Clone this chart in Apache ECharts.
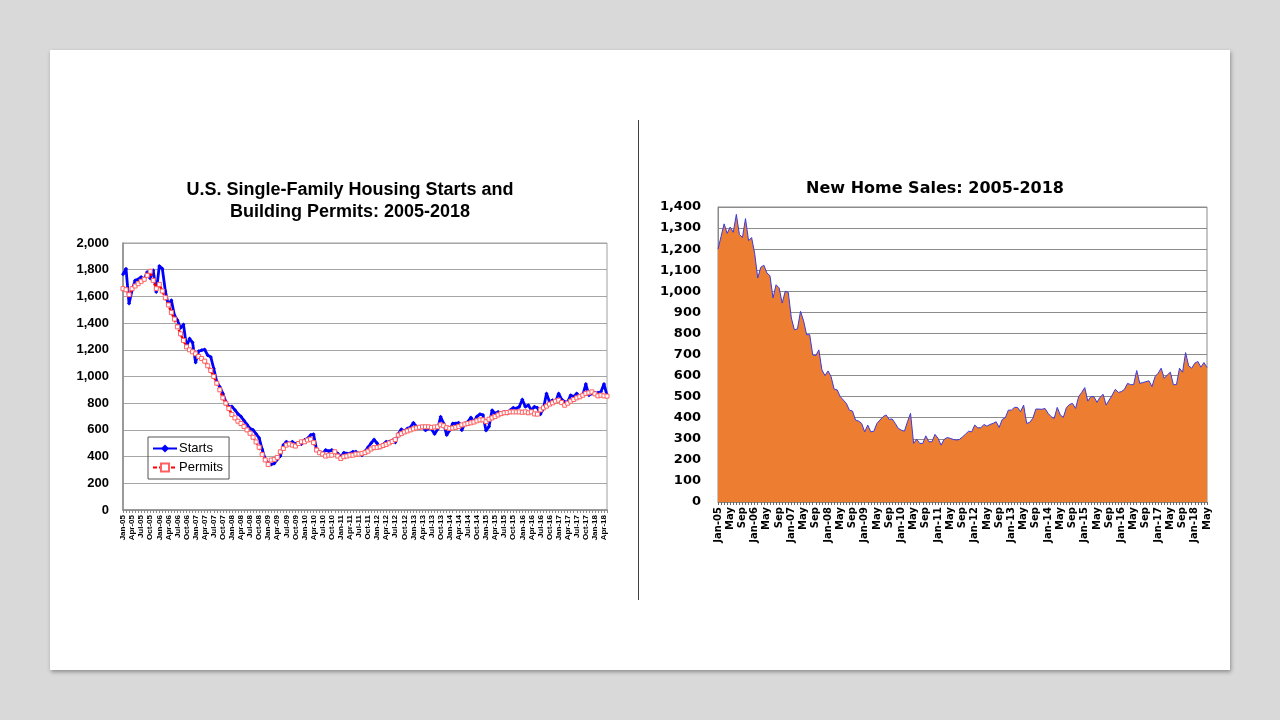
<!DOCTYPE html>
<html style="height: 100%">
<head>
<meta charset="utf-8">
<style>
  html, body { margin: 0; height: 100%; background: #d9d9d9; }
  #slide { position: absolute; left: 50px; top: 50px; width: 1180px; height: 620px;
           background: #fff; box-shadow: 1px 2px 4px rgba(0,0,0,0.35); }
  #container { position: absolute; left: 0; top: 0; width: 1180px; height: 620px; }
</style>
</head>
<body>
<div id="slide"><div id="container"></div></div>
<script src="https://cdn.jsdelivr.net/npm/echarts@6/dist/echarts.min.js"></script>
<script>
// months Jan-05 .. May-18
var monthNames = ['Jan','Feb','Mar','Apr','May','Jun','Jul','Aug','Sep','Oct','Nov','Dec'];
var years = ['05','06','07','08','09','10','11','12','13','14','15','16','17','18'];
var lastMonthOf18 = 5;

// single-family housing starts, thousands SAAR
var starts = [
  1765,1808,1546,1646,1720,1728,1745,1728,1783,1735,1795,1633,
  1828,1808,1640,1533,1571,1459,1421,1364,1389,1222,1284,1254,
  1105,1189,1197,1202,1159,1147,1060,960,922,873,810,773,
  775,750,720,700,670,640,610,600,570,540,455,380,
  349,341,349,379,404,486,511,498,511,494,498,494,
  524,536,561,568,449,436,424,449,441,449,436,424,
  399,428,424,424,436,436,424,411,440,470,500,528,
  500,469,490,511,511,523,505,570,605,590,611,620,
  653,625,616,620,598,610,605,569,605,698,648,561,
  598,648,648,653,598,648,661,693,661,700,718,711,
  595,625,748,723,735,727,735,723,748,766,760,773,
  828,773,785,748,773,766,718,760,873,810,823,810,
  873,828,810,810,860,848,873,848,860,943,860,873,
  878,878,885,943,860
];

// single-family building permits
var permits = [
  1658,1650,1613,1658,1678,1695,1713,1728,1758,1788,1720,1658,
  1690,1640,1590,1536,1480,1430,1372,1320,1270,1222,1200,1185,
  1170,1150,1135,1115,1080,1045,1000,950,900,840,800,760,
  715,690,665,648,625,600,575,545,510,470,415,375,
  341,374,379,394,436,461,486,494,486,479,498,511,
  511,524,530,505,449,429,419,404,411,411,436,404,
  386,399,404,411,411,419,419,424,430,441,457,467,
  469,474,483,491,502,513,527,561,572,584,592,600,
  608,615,620,623,623,623,618,622,623,638,631,617,
  611,614,619,626,637,643,648,653,659,668,675,675,
  662,680,690,700,712,722,728,730,735,735,735,735,
  732,735,728,735,720,718,750,765,778,793,803,815,
  822,805,785,800,815,828,840,848,860,873,878,885,
  870,855,860,855,853
];

// new home sales, thousands SAAR
var sales = [
  1200,1260,1320,1275,1305,1280,1365,1270,1255,1345,1240,1255,
  1180,1063,1114,1124,1087,1074,968,1031,1016,944,1000,995,
  873,817,822,905,860,794,794,698,695,722,627,600,
  622,595,536,532,500,484,468,436,432,389,384,373,
  333,365,333,336,373,389,405,413,392,394,373,349,
  341,336,381,421,278,298,278,278,314,286,286,321,
  302,270,297,306,302,297,294,297,309,322,336,333,
  365,352,352,368,360,368,373,381,354,392,400,436,
  436,449,449,429,460,373,378,397,441,441,440,444,
  421,405,397,449,413,402,448,463,468,444,500,520,
  543,479,500,500,473,497,511,460,484,508,535,520,
  524,535,563,557,557,624,563,567,571,575,548,595,
  611,635,587,603,616,557,557,635,616,709,646,635,
  659,667,640,662,638
];

var months = [];
years.forEach(function (y) {
  var n = (y === '18') ? lastMonthOf18 : 12;
  for (var m = 0; m < n; m++) months.push(monthNames[m] + '-' + y);
});

var dom = document.getElementById('container');
var myChart = echarts.init(dom);

var arial = 'Liberation Sans, Arial, sans-serif';
var verdana = 'DejaVu Sans, Verdana, sans-serif';

var option = {
  animation: false,
  title: [
    {
      text: 'U.S. Single-Family Housing Starts and\nBuilding Permits: 2005-2018',
      left: 295, top: 124, textAlign: 'center',
      textStyle: { fontFamily: arial, fontWeight: 'bold', fontSize: 18, lineHeight: 22, color: '#000' }
    },
    {
      text: 'New Home Sales: 2005-2018',
      left: 880, top: 124, textAlign: 'center',
      textStyle: { fontFamily: verdana, fontWeight: 'bold', fontSize: 16, lineHeight: 20, color: '#000' }
    }
  ],
  legend: {
    data: ['Starts', 'Permits'],
    left: 98, top: 387,
    orient: 'vertical',
    borderColor: '#555', borderWidth: 1,
    padding: [5, 6, 5, 4],
    itemGap: 6, itemWidth: 24, itemHeight: 10,
    textStyle: { fontFamily: arial, fontSize: 13, color: '#000', padding: [0, 0, 0, -3] }
  },
  graphic: [
    { type: 'line', shape: { x1: 588.5, y1: 70, x2: 588.5, y2: 550 },
      style: { stroke: '#404040', lineWidth: 1 } }
  ],
  grid: [
    { left: 73, top: 193, width: 484, height: 267, show: true, borderColor: '#a0a0a0', borderWidth: 1 },
    { left: 668, top: 157, width: 489, height: 295, show: true, borderColor: '#8c8c8c', borderWidth: 1 }
  ],
  xAxis: [
    {
      gridIndex: 0, type: 'category', data: months, boundaryGap: false,
      axisLine: { lineStyle: { color: '#888', width: 1.5 } },
      axisTick: { show: true, interval: 0, length: 3, lineStyle: { color: '#888' } },
      axisLabel: { interval: 2, rotate: 90, margin: 5, fontSize: 8, fontWeight: 'bold', fontFamily: arial, color: '#000' }
    },
    {
      gridIndex: 1, type: 'category', data: months, boundaryGap: false,
      axisLine: { lineStyle: { color: '#888' } },
      axisTick: { show: true, interval: 0, length: 3, lineStyle: { color: '#666' } },
      axisLabel: {
        interval: 3, rotate: 90, margin: 5, fontSize: 10, fontWeight: 'bold', fontFamily: verdana, color: '#000',
        formatter: function (v) { return v.indexOf('Jan') === 0 ? v : v.split('-')[0]; }
      }
    }
  ],
  yAxis: [
    {
      gridIndex: 0, type: 'value', min: 0, max: 2000, interval: 200,
      axisLine: { show: true, lineStyle: { color: '#888', width: 1.5 } },
      axisTick: { show: false },
      splitLine: { lineStyle: { color: '#a6a6a6' } },
      axisLabel: {
        margin: 14, fontSize: 13, fontWeight: 'bold', fontFamily: arial, color: '#000',
        formatter: function (v) { return v.toLocaleString('en-US'); }
      }
    },
    {
      gridIndex: 1, type: 'value', min: 0, max: 1400, interval: 100,
      axisLine: { show: true, lineStyle: { color: '#888' } },
      axisTick: { show: false },
      splitLine: { lineStyle: { color: '#8c8c8c' } },
      axisLabel: {
        margin: 17, fontSize: 13, fontWeight: 'bold', fontFamily: verdana, color: '#000',
        formatter: function (v) { return v.toLocaleString('en-US'); }
      }
    }
  ],
  series: [
    {
      name: 'Permits', type: 'line', xAxisIndex: 0, yAxisIndex: 0, data: permits,
      symbol: 'rect', symbolSize: 4, showAllSymbol: true,
      lineStyle: { color: '#ff0000', width: 2.5, type: [4, 2] },
      itemStyle: { color: '#ffffff', borderColor: '#ff6060', borderWidth: 1 },
      z: 2
    },
    {
      name: 'Starts', type: 'line', xAxisIndex: 0, yAxisIndex: 0, data: starts,
      symbol: 'diamond', symbolSize: 4, showAllSymbol: true,
      lineStyle: { color: '#0000ff', width: 2.8 },
      itemStyle: { color: '#0000ff' },
      z: 1
    },
    {
      name: 'New Home Sales', type: 'line', xAxisIndex: 1, yAxisIndex: 1, data: sales,
      symbol: 'none',
      lineStyle: { color: '#3a3ae0', width: 1 },
      areaStyle: { color: '#ed7d31', opacity: 1 }
    }
  ]
};

myChart.setOption(option);
</script>
</body>
</html>
